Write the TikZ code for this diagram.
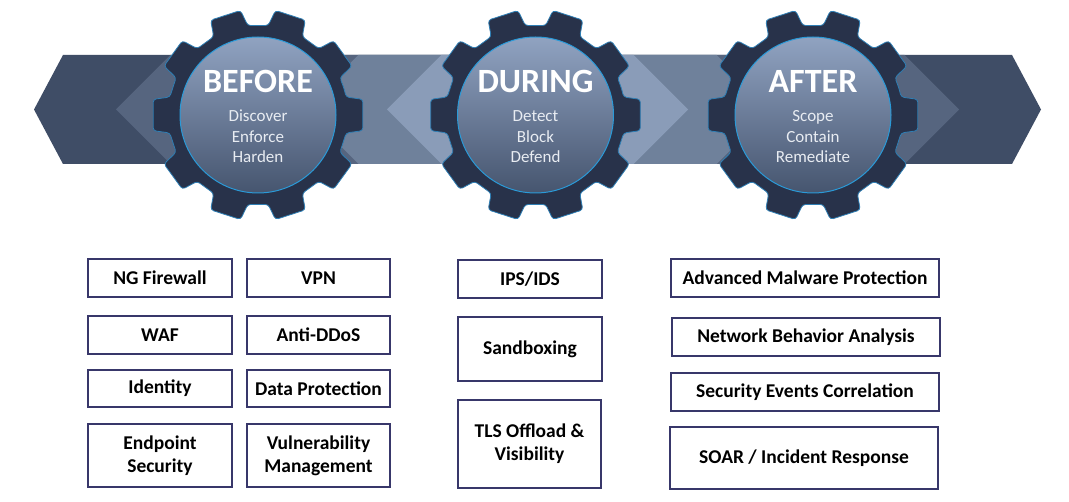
\documentclass[tikz,border=0pt]{standalone}
\usepackage{fontspec}
\setmainfont{Carlito}
\definecolor{bandA}{HTML}{3F4D66}
\definecolor{bandB}{HTML}{56657F}
\definecolor{bandC}{HTML}{6F819B}
\definecolor{bandD}{HTML}{8A9CB8}
\definecolor{gearfill}{HTML}{28324A}
\definecolor{gearedge}{HTML}{2F7FB5}
\definecolor{innertop}{HTML}{90A3C1}
\definecolor{innerbot}{HTML}{46556F}
\definecolor{innerline}{HTML}{2A9AD8}
\definecolor{subtext}{HTML}{E8ECF2}
\definecolor{boxline}{HTML}{38376A}
\begin{document}
\begin{tikzpicture}[x=1pt,y=-1pt,
  cog/.pic={
    \fill[gearfill, draw=gearedge, line width=0.8pt, rounded corners=3pt]
      (-18:90) \foreach \a in {0,36,...,324} {
        -- (\a-11.5:90) -- (\a-8.5:106) -- (\a+8.5:106) -- (\a+11.5:90) } -- cycle;
    \shade[top color=innertop, bottom color=innerbot, draw=innerline, line width=1pt] (0,0) circle (78);
  },
  title/.style={text=white, font=\bfseries\fontsize{34}{36}\selectfont, anchor=base, inner sep=0pt},
  sub/.style={text=subtext, font=\fontsize{17}{19}\selectfont, anchor=base, inner sep=0pt},
  itembox/.style={draw=boxline, line width=1.8pt, fill=white, align=center, inner sep=0pt,
    font=\bfseries\fontsize{19.5}{23}\selectfont, text=black}
]
\useasboundingbox (0,0) rectangle (1069,502);
\fill[white] (0,0) rectangle (1069,502);
% band
\fill[bandA] (63,55) -- (1012,55) -- (1041,109.5) -- (1012,164) -- (63,164) -- (34,109.5) -- cycle;
\fill[bandB] (116,109.5) -- (170.5,55) -- (904.5,55) -- (959,109.5) -- (904.5,164) -- (170.5,164) -- cycle;
\fill[bandC] (304,109.5) -- (358.5,55) -- (716.5,55) -- (771,109.5) -- (716.5,164) -- (358.5,164) -- cycle;
\fill[bandD] (387,109.5) -- (441.5,55) -- (633.5,55) -- (688,109.5) -- (633.5,164) -- (441.5,164) -- cycle;
% gears
\pic at (258,115) {cog};
\pic at (535.5,115) {cog};
\pic at (813,115) {cog};
\node[title] (t1) at (258,93) {BEFORE};
\node[sub] (s1a) at (258,122) {Discover};
\node[sub] (s1b) at (258,142.5) {Enforce};
\node[sub] (s1c) at (258,163) {Harden};
\node[title] (t2) at (535.5,93) {DURING};
\node[sub] (s2a) at (535.5,122) {Detect};
\node[sub] (s2b) at (535.5,142.5) {Block};
\node[sub] (s2c) at (535.5,163) {Defend};
\node[title] (t3) at (813,93) {AFTER};
\node[sub] (s3a) at (813,122) {Scope};
\node[sub] (s3b) at (813,142.5) {Contain};
\node[sub] (s3c) at (813,163) {Remediate};
% boxes
\node[itembox, minimum width=144pt, minimum height=38pt] (ngfw) at (160,278) {NG Firewall};
\node[itembox, minimum width=143pt, minimum height=38pt] (vpn) at (318.5,278) {VPN};
\node[itembox, minimum width=144pt, minimum height=38pt] (waf) at (160,335) {WAF};
\node[itembox, minimum width=143pt, minimum height=38pt] (ddos) at (318.5,335) {Anti-DDoS};
\node[itembox, minimum width=144pt, minimum height=37pt] (ident) at (160,388.5) {Identity};
\node[itembox, minimum width=143pt, minimum height=37pt] (dp) at (318.5,388.5) {Data Protection};
\node[itembox, minimum width=144pt, minimum height=63pt] (eps) at (160,455.5) {Endpoint\\Security};
\node[itembox, minimum width=143pt, minimum height=63pt] (vm) at (318.5,455.5) {Vulnerability\\Management};
\node[itembox, minimum width=144pt, minimum height=38pt] (ips) at (530,279) {IPS/IDS};
\node[itembox, minimum width=144pt, minimum height=64pt] (sand) at (530,349) {Sandboxing};
\node[itembox, minimum width=143pt, minimum height=88pt] (tls) at (529.5,444) {TLS Offload \&\\Visibility};
\node[itembox, minimum width=268pt, minimum height=38pt] (amp) at (805,278) {Advanced Malware Protection};
\node[itembox, minimum width=268pt, minimum height=38pt] (nba) at (806,337) {Network Behavior Analysis};
\node[itembox, minimum width=268pt, minimum height=38pt] (sec) at (805,392) {Security Events Correlation};
\node[itembox, minimum width=268pt, minimum height=62pt] (soar) at (804,458) {SOAR / Incident Response};
\end{tikzpicture}
\end{document}
